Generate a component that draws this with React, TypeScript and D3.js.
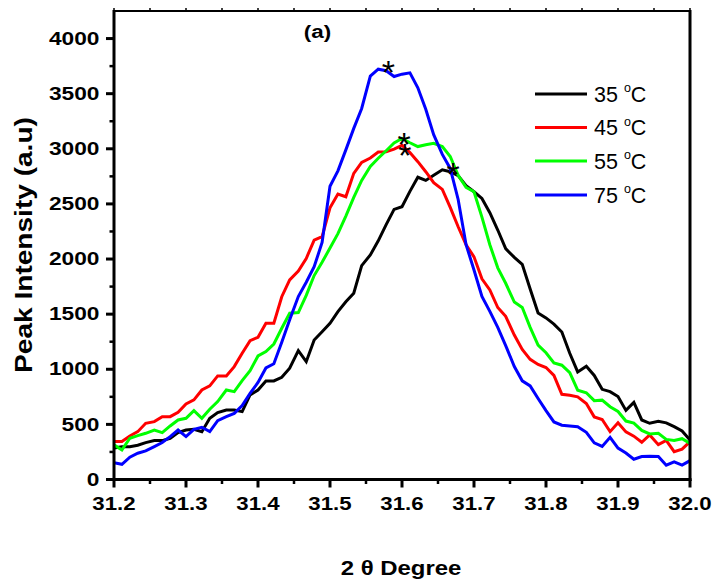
import React from "react";
import * as d3 from "d3";

const xVals = [
  31.2, 31.211, 31.222, 31.233, 31.244, 31.256, 31.267, 31.278, 31.289, 31.3,
  31.311, 31.322, 31.333, 31.344, 31.356, 31.367, 31.378, 31.389, 31.4, 31.411,
  31.422, 31.433, 31.444, 31.456, 31.467, 31.478, 31.489, 31.5, 31.511, 31.522,
  31.533, 31.544, 31.556, 31.567, 31.578, 31.589, 31.6, 31.611, 31.622, 31.633,
  31.644, 31.656, 31.667, 31.678, 31.689, 31.7, 31.711, 31.722, 31.733, 31.744,
  31.756, 31.767, 31.778, 31.789, 31.8, 31.811, 31.822, 31.833, 31.844, 31.856,
  31.867, 31.878, 31.889, 31.9, 31.911, 31.922, 31.933, 31.944, 31.956, 31.967,
  31.978, 31.989, 32.0,
];

const s35 = [
  285, 298, 298, 311, 335, 353, 353, 374, 425, 449,
  456, 434, 555, 607, 631, 631, 616, 767, 812, 894,
  894, 927, 1009, 1169, 1069, 1266, 1341, 1417, 1523, 1613,
  1690, 1940, 2037, 2165, 2312, 2450, 2475, 2614, 2742, 2713,
  2759, 2810, 2792, 2757, 2665, 2610, 2550, 2420, 2263, 2094,
  2015, 1952, 1728, 1510, 1466, 1410, 1338, 1145, 976, 1028,
  944, 818, 797, 752, 627, 700, 540, 510, 528, 514,
  480, 440, 359,
];

const s45 = [
  344, 344, 395, 434, 510, 525, 570, 570, 610, 685,
  722, 812, 849, 940, 940, 1024, 1145, 1260, 1290, 1417,
  1417, 1658, 1810, 1890, 2005, 2172, 2203, 2465, 2589, 2565,
  2777, 2877, 2916, 2970, 2973, 2997, 3031, 2967, 2883, 2792,
  2692, 2632, 2468, 2293, 2130, 2020, 1820, 1720, 1560, 1480,
  1310, 1180, 1090, 1043, 1016, 944, 773, 764, 750, 690,
  568, 544, 434, 514, 432, 393, 338, 404, 316, 355,
  252, 275, 343,
];

const s55 = [
  314, 268, 374, 398, 419, 449, 425, 486, 540, 555,
  625, 555, 637, 707, 812, 797, 897, 988, 1121, 1160,
  1229, 1372, 1508, 1514, 1670, 1850, 1970, 2100, 2230, 2390,
  2560, 2713, 2840, 2914, 2982, 3053, 3093, 3055, 3020, 3036,
  3050, 3020, 2930, 2760, 2650, 2610, 2380, 2130, 1920, 1780,
  1610, 1560, 1380, 1220, 1150, 1058, 1037, 970, 810, 787,
  715, 720, 660, 617, 530, 511, 445, 413, 419, 364,
  354, 370, 328,
];

const s75 = [
  153, 138, 202, 238, 259, 298, 335, 389, 449, 389,
  455, 474, 434, 534, 570, 600, 670, 782, 880, 1012,
  1050, 1245, 1450, 1660, 1790, 1930, 2150, 2660, 2800, 2990,
  3185, 3366, 3660, 3722, 3708, 3656, 3677, 3689, 3553, 3358,
  3128, 2949, 2822, 2540, 2130, 1900, 1660, 1525, 1380, 1215,
  1025, 895, 849, 735, 625, 522, 493, 486, 478, 428,
  333, 300, 383, 285, 240, 184, 208, 211, 208, 130,
  160, 130, 171,
];

const seriesNames = ["35", "45", "55", "75"];
const seriesColors = ["#000000", "#ff0000", "#00ff00", "#0000ff"];
const seriesData = [s35, s45, s55, s75];

const xTicks = [31.2, 31.3, 31.4, 31.5, 31.6, 31.7, 31.8, 31.9, 32.0];
const xMinor = [31.25, 31.35, 31.45, 31.55, 31.65, 31.75, 31.85, 31.95];
const yTicks = [0, 500, 1000, 1500, 2000, 2500, 3000, 3500, 4000];
const yMinor = [250, 750, 1250, 1750, 2250, 2750, 3250, 3750];

const starX = [31.581, 31.603, 31.604, 31.671];
const starY = [3769, 3115, 3013, 2844];

const FONT = "'Liberation Sans', Arial, Helvetica, sans-serif";

function SText(props: any) {
  const { x, y, sx = 1, rotate = 0, anchor = "start", size, weight = "normal", children } = props;
  return (
    <g transform={`translate(${x},${y}) rotate(${rotate}) scale(${sx},1)`}>
      <text x={0} y={0} textAnchor={anchor} fontSize={size} fontWeight={weight} fontFamily={FONT} fill="#000">
        {children}
      </text>
    </g>
  );
}

export default function App() {
  const L = 114, R = 690, T = 11, B = 479.5;
  const x = d3.scaleLinear().domain([31.2, 32.0]).range([L, R]);
  const y = d3.scaleLinear().domain([0, 4250]).range([B, T]);
  const line = d3
    .line<number>()
    .x((_, i) => x(xVals[i]))
    .y((d) => y(d));

  const legendY = [94, 127.5, 161, 195];
  const starSize = 34;

  return (
    <svg
      width={713}
      height={580}
      style={{ position: "absolute", left: 0, top: 0, background: "#fff" }}
    >
      <rect x={0} y={0} width={713} height={580} fill="#fff" />
      <defs>
        <clipPath id="plotclip">
          <rect x={L} y={T} width={R - L} height={B - T} />
        </clipPath>
      </defs>

      {/* series */}
      <g clipPath="url(#plotclip)">
        {seriesData.map((s, k) => (
          <path
            key={k}
            d={line(s) || ""}
            fill="none"
            stroke={seriesColors[k]}
            strokeWidth={3}
            strokeLinejoin="miter"
          />
        ))}
      </g>

      {/* asterisks */}
      {starX.map((sx, i) => (
        <text
          key={i}
          x={x(sx)}
          y={y(starY[i]) + starSize * 0.58}
          textAnchor="middle"
          fontSize={starSize}
          fontFamily={FONT}
          fill="#000"
        >
          *
        </text>
      ))}

      {/* frame */}
      <line x1={L} y1={T} x2={R} y2={T} stroke="#000" strokeWidth={2} />
      <line x1={R} y1={T - 1} x2={R} y2={B + 1.5} stroke="#000" strokeWidth={3} />
      <line x1={L} y1={B} x2={R + 1.5} y2={B} stroke="#000" strokeWidth={3} />
      <line x1={L} y1={T - 1} x2={L} y2={B + 1.5} stroke="#000" strokeWidth={3} />

      {/* x ticks */}
      {xTicks.map((t) => (
        <g key={"xt" + t}>
          <line x1={x(t)} y1={B} x2={x(t)} y2={B + 8} stroke="#000" strokeWidth={3} />
          <line x1={x(t)} y1={T} x2={x(t)} y2={T - 3} stroke="#000" strokeWidth={1.5} />
          <SText x={x(t)} y={509.5} sx={1.27} anchor="middle" size={17.5} weight="bold">
            {t.toFixed(1)}
          </SText>
        </g>
      ))}
      {xMinor.map((t) => (
        <g key={"xm" + t}>
          <line x1={x(t)} y1={B} x2={x(t)} y2={B + 4.5} stroke="#000" strokeWidth={2.5} />
          <line x1={x(t)} y1={T} x2={x(t)} y2={T - 3} stroke="#000" strokeWidth={1.5} />
        </g>
      ))}

      {/* y ticks */}
      {yTicks.map((t) => (
        <g key={"yt" + t}>
          <line x1={L - 8} y1={y(t)} x2={L} y2={y(t)} stroke="#000" strokeWidth={3} />
          <SText x={99.5} y={y(t) + 6.2} sx={1.3} anchor="end" size={17.5} weight="bold">
            {String(t)}
          </SText>
        </g>
      ))}
      {yMinor.map((t) => (
        <line key={"ym" + t} x1={L - 4.5} y1={y(t)} x2={L} y2={y(t)} stroke="#000" strokeWidth={2.5} />
      ))}

      {/* axis titles */}
      <SText x={31.5} y={245} rotate={-90} sx={1.17} anchor="middle" size={24} weight="bold">
        Peak Intensity (a.u)
      </SText>
      <SText x={401} y={575} sx={1.14} anchor="middle" size={21} weight="bold">
        2 θ Degree
      </SText>

      {/* panel label */}
      <SText x={317.5} y={37.7} sx={1.18} anchor="middle" size={19} weight="bold">
        (a)
      </SText>

      {/* legend */}
      {seriesNames.map((n, i) => (
        <g key={"lg" + n}>
          <line x1={535} y1={legendY[i]} x2={587} y2={legendY[i]} stroke={seriesColors[i]} strokeWidth={3} />
          <text x={594} y={legendY[i] + 7.7} fontSize={21.5} fontFamily={FONT} fill="#000">
            {n + " "}
            <tspan fontSize={12.5} dy={-9.4}>o</tspan>
            <tspan dy={9.4}>C</tspan>
          </text>
        </g>
      ))}
    </svg>
  );
}
